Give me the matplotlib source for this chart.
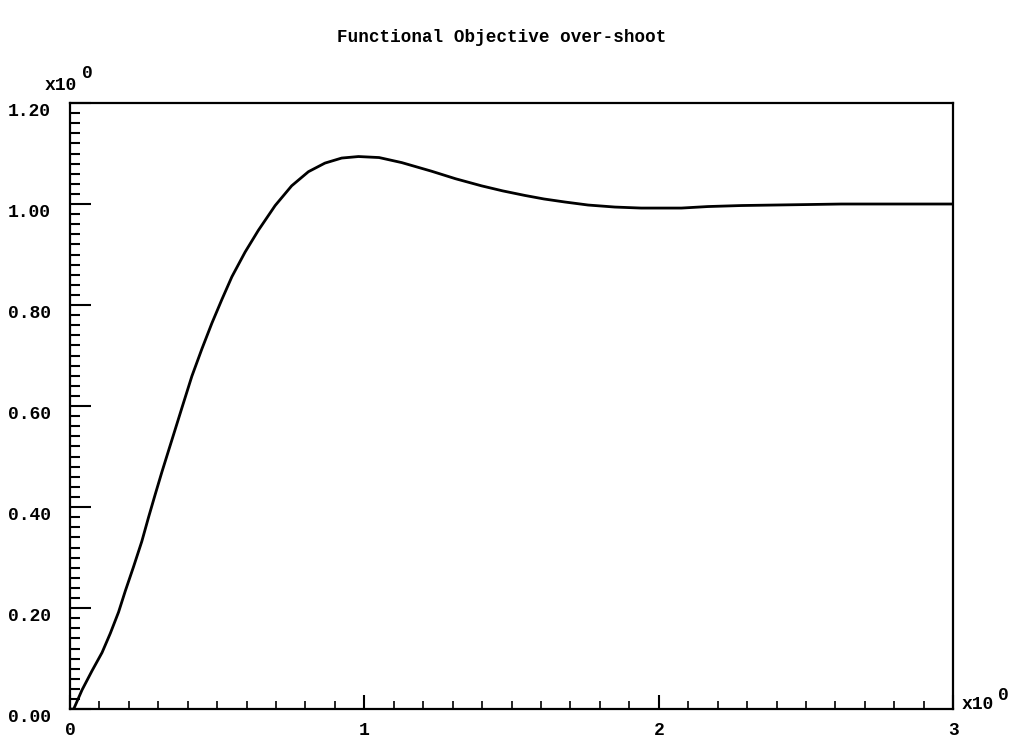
import matplotlib
matplotlib.use("Agg")
import matplotlib.pyplot as plt
from matplotlib.ticker import MultipleLocator

# points
t = [0.0, 0.0125, 0.041, 0.075, 0.109, 0.137, 0.165, 0.188, 0.216, 0.244,
     0.267, 0.290, 0.312, 0.335, 0.357, 0.380, 0.414, 0.448, 0.482, 0.516,
     0.55, 0.595, 0.64, 0.697, 0.753, 0.810, 0.866, 0.923, 0.98, 1.05,
     1.127, 1.228, 1.31, 1.398, 1.47, 1.545, 1.61, 1.681, 1.76, 1.851,
     1.94, 2.077, 2.167, 2.28, 2.393, 2.51, 2.62, 2.846, 3.0]
y = [0.0, 0.0, 0.038, 0.076, 0.112, 0.150, 0.192, 0.234, 0.282, 0.332,
     0.380, 0.426, 0.469, 0.512, 0.553, 0.596, 0.659, 0.713, 0.764, 0.811,
     0.856, 0.905, 0.948, 0.997, 1.036, 1.064, 1.081, 1.091, 1.094, 1.092,
     1.082, 1.065, 1.050, 1.036, 1.026, 1.017, 1.010, 1.004, 0.998, 0.994,
     0.992, 0.992, 0.995, 0.997, 0.998, 0.999, 1.0, 1.0, 1.0]

title = "Functional Objective over-shoot"
yticks = [0.0, 0.2, 0.4, 0.6, 0.8, 1.0, 1.2]
ylabels = ["0.00", "0.20", "0.40", "0.60", "0.80", "1.00", "1.20"]
xticks = [0, 1, 2, 3]
xlabels = ["0", "1", "2", "3"]

fnt = dict(family="Liberation Mono", weight="bold")

fig = plt.figure(figsize=(10.14, 7.41), dpi=100)
ax = fig.add_axes([0.069, 0.043, 0.871, 0.818])
ax.plot(t, y, color="black", lw=2.0)
ax.set_xlim(0, 3)
ax.set_ylim(0, 1.2)

ax.set_yticks(yticks)
ax.set_yticklabels(ylabels, fontsize=13, va="top", **fnt)
ax.set_xticks(xticks)
ax.set_xticklabels(xlabels, fontsize=13, **fnt)
ax.yaxis.set_minor_locator(MultipleLocator(0.02))
ax.xaxis.set_minor_locator(MultipleLocator(0.1))
ax.tick_params(axis="y", which="major", direction="in", length=15, width=1.5, pad=14)
ax.tick_params(axis="y", which="minor", direction="in", length=7, width=1.5)
ax.tick_params(axis="x", which="major", direction="in", length=10, width=1.5, pad=9)
ax.tick_params(axis="x", which="minor", direction="in", length=6, width=1.2)
for s in ax.spines.values():
    s.set_linewidth(1.6)

fig.text(0.495, 0.95, title, ha="center", va="center", fontsize=12.7, **fnt)
fig.text(0.044, 0.885, "x10", ha="left", va="center", fontsize=13, **fnt)
fig.text(0.081, 0.901, "0", ha="left", va="center", fontsize=13, **fnt)
fig.text(0.948, 0.049, "x10", ha="left", va="center", fontsize=13, **fnt)
fig.text(0.984, 0.062, "0", ha="left", va="center", fontsize=13, **fnt)

fig.savefig("out.png", dpi=100)
